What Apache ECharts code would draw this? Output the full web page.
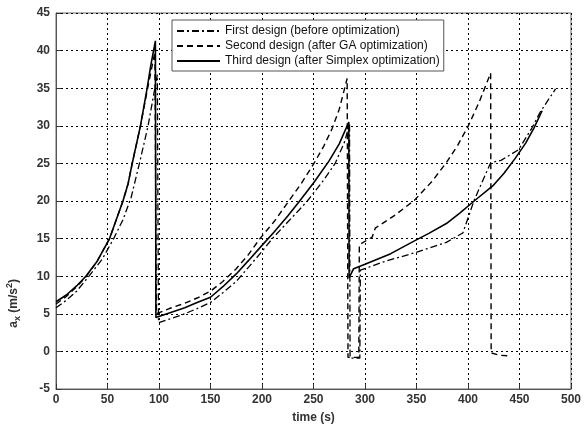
<!DOCTYPE html>
<html>
<head>
<meta charset="utf-8">
<script src="https://cdn.jsdelivr.net/npm/echarts@6/dist/echarts.min.js"></script>
<style>html,body{margin:0;padding:0;background:#fff}#c{width:584px;height:429px}</style>
</head>
<body>
<div id="c"></div>
<script>
const seriesNames = ['First design (before optimization)', 'Second design (after GA optimization)', 'Third design (after Simplex optimization)'];
const xTicks = [0, 50, 100, 150, 200, 250, 300, 350, 400, 450, 500];
const yTicks = [-5, 0, 5, 10, 15, 20, 25, 30, 35, 40, 45];

// First design (dash-dot)
const firstT = [0, 10, 20, 32, 45, 56, 65, 73, 81, 89.4, 96, 98.4, 99.5,
  110, 125, 137, 150, 162, 175, 187, 200, 210, 225, 236, 244, 260, 271, 280, 285, 285.5, 295, 295.5,
  320, 348, 379, 395, 406, 422, 432, 449, 462, 470, 485];
const firstA = [5.8, 6.8, 8.0, 10.0, 12.3, 15.0, 17.5, 20.5, 25.0, 30.0, 35.0, 36.8, 3.8,
  4.3, 5.0, 5.7, 6.5, 7.8, 9.3, 11.2, 13.3, 15.0, 17.2, 18.8, 20.0, 22.8, 25.0, 27.8, 30.2, -0.9, -0.9, 10.8,
  12.0, 13.1, 14.5, 15.75, 20.1, 25.1, 25.4, 26.8, 29.7, 31.8, 34.9];

// Second design (dashed)
const secondT = [0, 10, 20, 29, 40, 52, 65, 70, 74, 78, 82, 89, 96, 97.5,
  110, 125, 137, 150, 162, 175, 187, 198, 212, 225, 238, 250, 260, 268, 275, 282.7, 283.5, 294, 294.5,
  307, 310, 330, 348, 365, 379, 390, 400, 411, 422, 422.5, 430, 440];
const secondA = [6.3, 7.3, 8.6, 9.9, 12.0, 15.0, 20.0, 22.3, 25.0, 27.5, 30.0, 35.0, 39.8, 5.0,
  5.7, 6.4, 7.1, 8.0, 9.3, 11.0, 12.9, 15.0, 17.3, 19.8, 22.3, 24.9, 27.3, 29.6, 32.2, 36.3, -0.8, -0.8, 14.2,
  15.2, 16.4, 18.2, 20.1, 22.6, 25.1, 27.4, 29.9, 33.2, 37.0, -0.2, -0.5, -0.6];

// Third design (solid)
const thirdT = [0, 10, 20, 29, 40, 52, 65, 70, 74, 78, 82, 88.5, 92, 96.5, 97,
  110, 125, 137, 150, 162, 175, 187, 200, 212, 225, 236, 250, 265, 275, 284.3, 284.6, 289,
  300, 325, 348, 362, 379, 392, 406, 424, 435, 446, 456, 464, 472];
const thirdA = [6.6, 7.5, 8.7, 10.0, 12.0, 15.0, 20.0, 22.3, 25.0, 27.5, 30.0, 35.0, 38.0, 41.3, 4.5,
  5.1, 5.8, 6.5, 7.2, 8.6, 10.3, 12.1, 14.1, 15.9, 18.0, 19.9, 22.4, 25.3, 27.6, 30.5, 9.8, 11.0,
  11.6, 13.0, 14.7, 15.7, 17.0, 18.4, 20.0, 22.0, 23.7, 25.7, 27.7, 29.7, 32.0];

const zip = (t, a) => t.map((v, i) => [v, a[i]]);

const chart = echarts.init(document.getElementById('c'));
const font = 'Liberation Sans, Arial, sans-serif';
const gridLine = { show: true, lineStyle: { color: '#000', type: [2, 3], width: 1 } };
const lab = { color: '#333', fontSize: 12, fontWeight: 'bold', fontFamily: font };

chart.setOption({
  backgroundColor: '#fff',
  animation: false,
  grid: { left: 56, right: 8, top: 13, bottom: 33, show: true, borderColor: '#666', borderWidth: 1, backgroundColor: 'transparent' },
  legend: {
    orient: 'vertical', left: 172, top: 20,
    backgroundColor: '#fff', borderColor: '#555', borderWidth: 1,
    padding: [5, 4, 4, 4], itemGap: 3, itemWidth: 43, itemHeight: 12,
    itemStyle: { opacity: 0 },
    textStyle: { fontSize: 12, fontFamily: font, color: '#111' },
    data: seriesNames
  },
  xAxis: {
    type: 'value', min: 0, max: 500, interval: 50,
    axisLine: { show: true, onZero: false, lineStyle: { color: '#555' } },
    axisTick: { show: true, inside: true, length: 5, lineStyle: { color: '#333' } },
    axisLabel: Object.assign({ margin: 5, formatter: v => xTicks.includes(v) ? String(v) : '' }, lab),
    splitLine: gridLine,
    name: 'time (s)', nameLocation: 'middle', nameGap: 23,
    nameTextStyle: { color: '#333', fontSize: 12, fontWeight: 'bold', fontFamily: font }
  },
  yAxis: {
    type: 'value', min: -5, max: 45, interval: 5,
    axisLine: { show: true, onZero: false, lineStyle: { color: '#555' } },
    axisTick: { show: true, inside: true, length: 5, lineStyle: { color: '#333' } },
    axisLabel: Object.assign({ margin: 6, formatter: v => yTicks.includes(v) ? String(v) : '' }, lab),
    splitLine: gridLine
  },
  graphic: [{
    type: 'text', left: 5, top: 279, rotation: Math.PI / 2,
    style: {
      text: '{a|a}{s|x}{a| (m/s}{p|2}{a|)}',
      rich: {
        a: { fontSize: 12, fontFamily: font, fill: '#333', fontWeight: 'bold', lineHeight: 17 },
        s: { fontSize: 9, fontFamily: font, fill: '#333', fontWeight: 'bold', lineHeight: 17, verticalAlign: 'bottom', padding: [6, 0, 0, 0] },
        p: { fontSize: 9, fontFamily: font, fill: '#333', fontWeight: 'bold', lineHeight: 17, verticalAlign: 'top', padding: [0, 0, 5, 0] }
      }
    }
  }],
  series: [
    { name: seriesNames[0], type: 'line', symbol: 'none', data: zip(firstT, firstA),
      lineStyle: { color: '#000', width: 1.3, type: [7, 3, 2, 3] }, itemStyle: { color: '#000' } },
    { name: seriesNames[1], type: 'line', symbol: 'none', data: zip(secondT, secondA),
      lineStyle: { color: '#000', width: 1.4, type: [6, 4] }, itemStyle: { color: '#000' } },
    { name: seriesNames[2], type: 'line', symbol: 'none', data: zip(thirdT, thirdA),
      lineStyle: { color: '#000', width: 1.6, type: 'solid' }, itemStyle: { color: '#000' } }
  ]
});
</script>
</body>
</html>
